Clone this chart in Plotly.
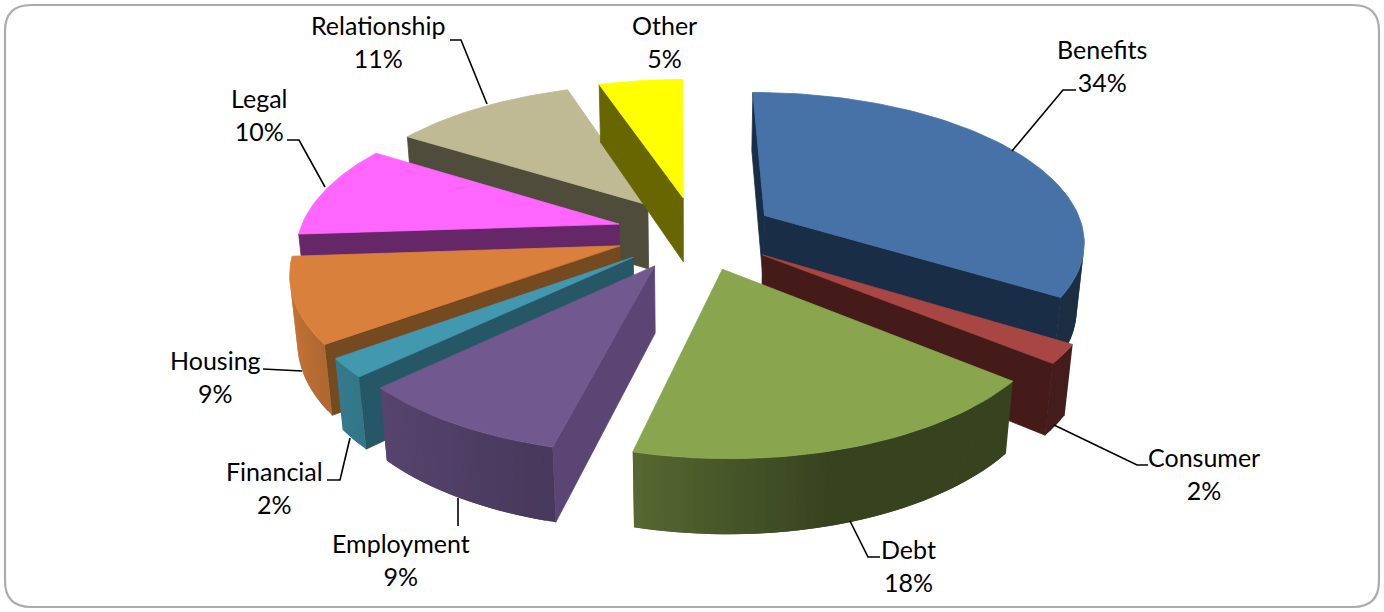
import math
import plotly.graph_objects as go

# Shares of enquiries by category (percent)
categories = ["Benefits", "Consumer", "Debt", "Employment", "Financial",
              "Housing", "Legal", "Relationship", "Other"]
shares = [34, 2, 18, 9, 2, 9, 10, 11, 5]

top_colors = ["#4672A8", "#A84644", "#89A54E", "#71588F", "#4198AF",
              "#D9803C", "#FF66FF", "#BFB994", "#FFFF00"]
cut_colors = ["#1A2D46", "#451B19", "#36411D", "#5A4575", "#265766",
              "#754A20", "#662768", "#504C3B", "#686600"]

# Painter's order of the exploded slices, far to near
draw_order = [7, 8, 6, 0, 5, 1, 4, 3, 2]

# Rim brightness against the clockwise bearing of the rim, in degrees
rim_shade = [(0, .40), (165, .40), (195, .64), (228, .78), (267, .97), (360, .60)]

# Label text position and leader path, in plot units
label_pos = {"Benefits": (1102, 65), "Consumer": (1204, 473), "Debt": (908, 565),
             "Employment": (401, 559), "Financial": (274, 487), "Housing": (215, 376),
             "Legal": (259, 114), "Relationship": (378, 41), "Other": (664, 41)}
leaders = [[(1012, 151), (1063, 90), (1076, 90)],
           [(1054, 425), (1137, 465), (1148, 465)],
           [(850, 521), (868, 557), (880, 557)],
           [(458, 498), (458, 526)],
           [(350, 438), (340, 480), (327, 480)],
           [(302, 371), (263, 369)],
           [(325, 187), (299, 140), (287, 140)],
           [(487, 104), (461, 40), (450, 40)]]

# Camera and pie geometry (pie radius = 1)
VP_X, CY = 688.0, 233.0
PIE_DX = 0.025
SIN_T, COS_T = 0.46, 0.888
DIST, FOCAL = 5.7, 1824.0
THICK = 0.235
EXPLODE = 0.25
START = -0.3


def project(x, y, z):
    """Perspective projection of a point on the tilted pie."""
    up = y * SIN_T + z * COS_T
    away = y * COS_T - z * SIN_T
    k = FOCAL / (DIST + away)
    return VP_X + k * (x + PIE_DX), CY - k * up


def hex_scale(col, f):
    r, g, b = (int(col[i:i + 2], 16) for i in (1, 3, 5))
    return f"rgb({r * f:.0f},{g * f:.0f},{b * f:.0f})"


def shade_at(phi):
    phi %= 360
    for (a, fa), (b, fb) in zip(rim_shade, rim_shade[1:]):
        if a <= phi <= b:
            return fa + (fb - fa) * (phi - a) / (b - a)
    return rim_shade[-1][1]


def polygon(points, color, edge=0.8):
    xs, ys = zip(*points)
    return go.Scatter(x=list(xs) + [xs[0]], y=list(ys) + [ys[0]], mode="lines",
                      fill="toself", fillcolor=color,
                      line=dict(color=color, width=edge),
                      hoverinfo="skip", showlegend=False)


def faces_front(quad):
    area = 0.0
    for (x0, y0), (x1, y1) in zip(quad, quad[1:] + quad[:1]):
        area += x0 * y1 - x1 * y0
    return area < 0


def on_rim(ox, oy, bearing):
    rad = math.radians(bearing)
    return ox + math.sin(rad), oy + math.cos(rad)


total = sum(shares)
spans = []
cum = START
for s in shares:
    spans.append((cum, cum + 360.0 * s / total))
    cum = spans[-1][1]

traces = []
for i in draw_order:
    a0, a1 = spans[i]
    mid = math.radians((a0 + a1) / 2)
    ox, oy = EXPLODE * math.sin(mid), EXPLODE * math.cos(mid)
    steps = max(2, int((a1 - a0) / 1.5))
    bearings = [a0 + (a1 - a0) * k / steps for k in range(steps + 1)]
    rim = [on_rim(ox, oy, b) for b in bearings]
    tip = (ox, oy)

    # Straight cut faces
    for p, q in ((tip, rim[0]), (rim[-1], tip)):
        quad = [project(*p, 0), project(*q, 0), project(*q, -THICK), project(*p, -THICK)]
        if faces_front(quad):
            traces.append(polygon(quad, cut_colors[i]))

    # Curved outer wall: facets overlap the next one so no seams open between them
    for k in range(steps):
        p = rim[k]
        q = rim[min(k + 2, steps)]
        quad = [project(*p, 0), project(*q, 0), project(*q, -THICK), project(*p, -THICK)]
        if faces_front(quad):
            f = shade_at((bearings[k] + bearings[k + 1]) / 2)
            traces.append(polygon(quad, hex_scale(top_colors[i], f), edge=0))

    # Top surface
    traces.append(polygon([project(*tip, 0)] + [project(*p, 0) for p in rim], top_colors[i]))

for path in leaders:
    xs, ys = zip(*path)
    traces.append(go.Scatter(x=xs, y=ys, mode="lines", line=dict(color="#000000", width=1.6),
                             hoverinfo="skip", showlegend=False))

annotations = [dict(x=label_pos[c][0], y=label_pos[c][1], xref="x", yref="y",
                    text=f"{c}<br>{s}%", showarrow=False, align="center",
                    xanchor="center", yanchor="middle",
                    font=dict(family="Lato", size=25, color="#000000"))
               for c, s in zip(categories, shares)]

# Rounded chart frame
L, T, R, B, r = 5, 5, 1379, 607, 26
frame = (f"M {L + r} {T} L {R - r} {T} Q {R} {T} {R} {T + r} L {R} {B - r} Q {R} {B} {R - r} {B} "
         f"L {L + r} {B} Q {L} {B} {L} {B - r} L {L} {T + r} Q {L} {T} {L + r} {T} Z")

fig = go.Figure(traces)
fig.update_layout(
    width=1384, height=612, margin=dict(l=0, r=0, t=0, b=0),
    paper_bgcolor="#FFFFFF", plot_bgcolor="#FFFFFF", showlegend=False,
    xaxis=dict(range=[0, 1384], visible=False, fixedrange=True),
    yaxis=dict(range=[612, 0], visible=False, fixedrange=True),
    annotations=annotations,
    shapes=[dict(type="path", path=frame, xref="x", yref="y", layer="below",
                 line=dict(color="#ABABAB", width=2.2))],
)
fig.write_html("out.html", config=dict(displayModeBar=False))
